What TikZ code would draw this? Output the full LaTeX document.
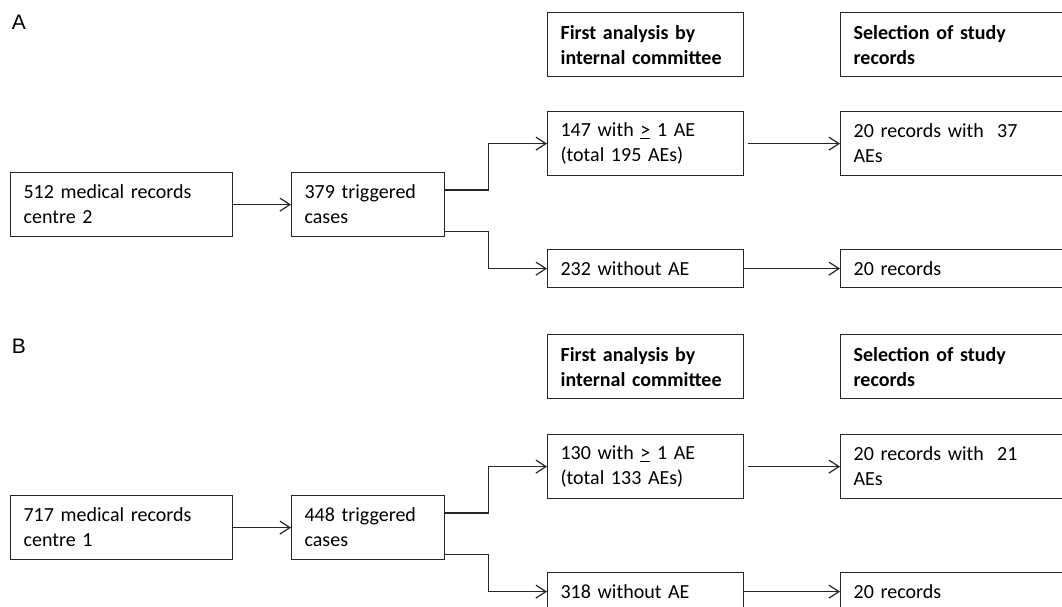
\documentclass[tikz,border=0pt]{standalone}
\usepackage{fontspec}
\setmainfont{Carlito}
\newfontfamily\labelfont{Liberation Sans}
\usetikzlibrary{arrows.meta, positioning, calc}

\tikzset{
  box/.style={draw=black!85, line width=1.2pt, rectangle, anchor=north west,
    align=left, inner xsep=13pt, inner ysep=0pt, minimum height=64pt,
    font=\fontsize{20}{25}\selectfont},
  onebox/.style={box, minimum height=38pt},
  headbox/.style={box, font=\fontsize{20}{25}\selectfont\bfseries},
  panel/.style={font=\labelfont\fontsize{21}{24}\selectfont, inner sep=0pt},
  arr/.style={draw=black!85, line width=1.2pt, -{Straight Barb[length=10pt,width=13pt]}}
}

\begin{document}
\begin{tikzpicture}[x=1pt, y=-1pt]
\useasboundingbox (0,0) rectangle (1062,606);

% panel A
\node[panel] (lblA) at (19,22.5) {A};
\node[box, text width=196pt] (a1) at (10,172) {512 medical records\\centre 2};
\node[box, text width=127pt] (a2) at (291,172) {379 triggered\\cases};
\node[headbox, text width=170pt] (a3h) at (547,12) {First analysis by\\internal committee};
\node[headbox, text width=224pt] (a4h) at (840,12) {Selection of study\\records};
\node[box, text width=170pt] (a3) at (547,111) {147 with \underline{>} 1 AE\\(total 195 AEs)};
\node[box, text width=224pt] (a4) at (840,111) {20 records with\ \ 37\\AEs};
\node[onebox, text width=170pt] (a5) at (547,249) {232 without AE};
\node[onebox, text width=224pt] (a6) at (840,249) {20 records};

\coordinate (a2t) at ($(a2.north east)+(0,18)$);
\coordinate (a2b) at ($(a2.south east)+(0,-6)$);
\draw[arr] (a1) -- (a2);
\draw[arr] (a2t) -- ++(43,0) |- (a3.west);
\draw[arr] (a2b) -- ++(43,0) |- (a5.west);
\draw[arr, shorten <=4pt] (a3) -- (a4);
\draw[arr] (a5) -- (a6);

% panel B
\node[panel] (lblB) at (19,346) {B};
\node[box, text width=196pt] (b1) at (10,495) {717 medical records\\centre 1};
\node[box, text width=127pt] (b2) at (291,495) {448 triggered\\cases};
\node[headbox, text width=170pt] (b3h) at (547,334) {First analysis by\\internal committee};
\node[headbox, text width=224pt] (b4h) at (840,334) {Selection of study\\records};
\node[box, text width=170pt] (b3) at (547,434) {130 with \underline{>} 1 AE\\(total 133 AEs)};
\node[box, text width=224pt] (b4) at (840,434) {20 records with\ \ 21\\AEs};
\node[onebox, text width=170pt] (b5) at (547,572) {318 without AE};
\node[onebox, text width=224pt] (b6) at (840,572) {20 records};

\coordinate (b2t) at ($(b2.north east)+(0,18)$);
\coordinate (b2b) at ($(b2.south east)+(0,-6)$);
\draw[arr] (b1) -- (b2);
\draw[arr] (b2t) -- ++(43,0) |- (b3.west);
\draw[arr] (b2b) -- ++(43,0) |- (b5.west);
\draw[arr, shorten <=4pt] (b3) -- (b4);
\draw[arr] (b5) -- (b6);
\end{tikzpicture}
\end{document}
